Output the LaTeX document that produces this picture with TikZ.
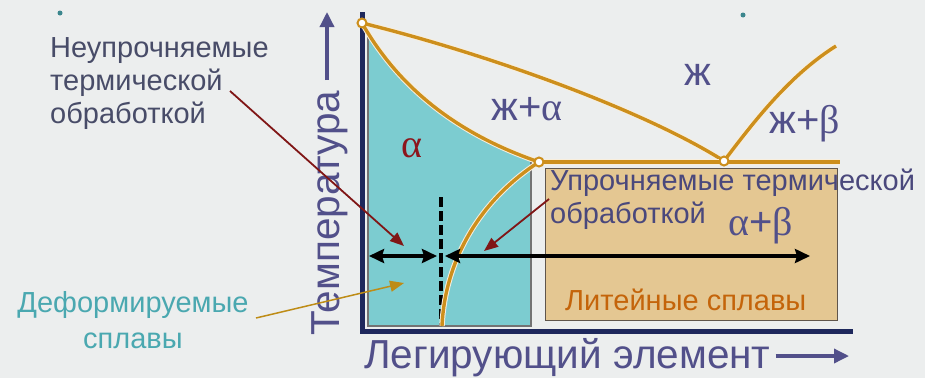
\documentclass[tikz,border=0pt]{standalone}
\usepackage{fontspec}
\setmainfont{Liberation Sans}
\newfontfamily\grk{Liberation Serif}
\usetikzlibrary{arrows.meta}
\definecolor{bgc}{RGB}{236,238,238}
\definecolor{tealc}{RGB}{124,204,208}
\definecolor{tanc}{RGB}{228,199,146}
\definecolor{orc}{RGB}{205,143,28}
\definecolor{navyc}{RGB}{30,40,92}
\definecolor{violc}{RGB}{82,80,138}
\definecolor{greyt}{RGB}{72,76,104}
\definecolor{redc}{RGB}{128,22,22}
\definecolor{alphac}{RGB}{140,22,28}
\definecolor{olivec}{RGB}{190,140,22}
\definecolor{tealt}{RGB}{74,168,176}
\definecolor{brownt}{RGB}{196,100,10}
\begin{document}
\begin{tikzpicture}[x=1pt,y=-1pt,
  phase/.style={draw=orc,line width=3.4pt},
  halo/.style={draw=white!85!orc,line width=5.4pt},
  junction/.style={circle,draw=orc,fill=white,line width=2pt,minimum size=9pt,inner sep=0pt},
  blackarr/.style={draw=black,line width=3.2pt,{Stealth[length=15pt,width=14pt,inset=2pt]}-{Stealth[length=15pt,width=14pt,inset=2pt]}},
  pointer/.style={line width=1.8pt,-{Triangle[length=14pt,width=11pt]}},
  lblarrow/.style={draw=violc,line width=3.4pt,-{Triangle[length=15pt,width=14pt]}},
  small/.style={font=\fontsize{29}{33}\selectfont,inner sep=0pt},
  axlabel/.style={font=\fontsize{40.5}{41}\selectfont,text=violc,inner sep=0pt},
  region/.style={font=\fontsize{40}{40}\selectfont,text=violc,inner sep=0pt,anchor=base}]
\fill[bgc] (0,0) rectangle (925,378);
\useasboundingbox (0,0) rectangle (925,378);

% points of the diagram
\coordinate (A) at (362,23);
\coordinate (E1) at (539,162);
\coordinate (E2) at (724,161);
\coordinate (L) at (836,46);
\coordinate (Eend) at (840,162);
\coordinate (S) at (442,326);

% tan box
\node[draw={rgb,255:red,95;green,85;blue,75},line width=1.2pt,fill=tanc,minimum width=292pt,minimum height=152pt,inner sep=0pt,anchor=north west] (castbox) at (545,168) {};

% teal region
\begin{scope}
\clip (368,0) rectangle (531,326);
\fill[tealc] (A) .. controls (400,90) and (460,135) .. (E1) -- (539,330) -- (362,330) -- cycle;
\draw[black!70,line width=1.2pt] (A) .. controls (400,90) and (460,135) .. (E1);
\end{scope}
\draw[black!55,line width=1.1pt] (368,34) -- (368,326) -- (531,326) -- (531,157);

% dashed line
\coordinate (D1) at (441,197);
\coordinate (D2) at (441,326);
\draw[black,line width=3.4pt,dash pattern=on 10pt off 4pt] (D1) -- (D2);

% axes
\coordinate (axT) at (362,12);
\coordinate (axO) at (362,331);
\coordinate (axR) at (853,331);
\draw[navyc,line width=5pt] (axT) -- (axO) -- (axR);

% phase lines
\draw[halo] (E1) .. controls (480,200) and (445,260) .. (S);
\draw[phase] (E1) .. controls (480,200) and (445,260) .. (S);
\draw[halo] (A) .. controls (400,90) and (460,135) .. (E1);
\draw[phase] (A) .. controls (400,90) and (460,135) .. (E1);
\draw[halo] (A) .. controls (480,52) and (640,108) .. (E2);
\draw[phase] (A) .. controls (480,52) and (640,108) .. (E2);
\draw[halo] (E2) .. controls (755,120) and (790,75) .. (L);
\draw[phase] (E2) .. controls (755,120) and (790,75) .. (L);
\draw[halo] (E1) -- (Eend);
\draw[phase] (E1) -- (Eend);
\node[junction] (jA) at (A) {};
\node[junction] (jE1) at (E1) {};
\node[junction] (jE2) at (E2) {};

% black arrows
\coordinate (a1) at (369,256);
\coordinate (a2) at (437,256);
\coordinate (a3) at (445,256);
\coordinate (a4) at (810,256);
\draw[blackarr] (a1) -- (a2);
\draw[blackarr] (a3) -- (a4);

% region labels
\node[region,text=alphac,font=\grk\fontsize{40}{40}\selectfont] (lalpha) at (412,157) {α};
\node[region] (lla) at (527,120) {ж+{\grk α}};
\node[region] (ll) at (698,85) {ж};
\node[region] (llb) at (805,133) {ж+{\grk β}};
\node[region] (lab) at (761,235) {{\grk α}+{\grk β}};

% texts
\node[small,text=greyt,align=left,anchor=north west] (nonhard) at (50,37) {Неупрочняемые\\термической\\обработкой};
\node[small,text=violc!90!black,align=left,anchor=north west] (hard) at (550,169) {Упрочняемые термической\\обработкой};
\node[small,text=tealt,align=center,anchor=north] (deform) at (133,291) {Деформируемые\\[3pt]сплавы};
\node[small,text=brownt,anchor=base west] (cast) at (565,310) {Литейные сплавы};

% axis labels
\node[axlabel,rotate=90,anchor=base west] (tlabel) at (339,336) {Температура};
\coordinate (tarr) at (327,12);
\coordinate (tstart) at (327,80);
\draw[lblarrow] (tstart) -- (tarr);
\node[axlabel,anchor=base west] (blabel) at (364,368.5) {Легирующий элемент};
\coordinate (barr) at (849,356);
\coordinate (bstart) at ([xshift=5pt]blabel.east);
\draw[lblarrow] (bstart |- barr) -- (barr);

% pointers
\coordinate (p1s) at (230,91);
\coordinate (p1e) at (404,246);
\draw[pointer,redc] (p1s) -- (p1e);
\coordinate (p2s) at (549,199);
\coordinate (p2e) at (484,251);
\draw[pointer,redc] (p2s) -- (p2e);
\coordinate (p3s) at (256,318);
\coordinate (p3e) at (404,283);
\draw[pointer,olivec,line width=1.5pt] (p3s) -- (p3e);

% dots
\fill[tealt!80!black] (60,13) circle (2.5pt);
\fill[tealt!80!black] (743,15) circle (2.5pt);
\end{tikzpicture}
\end{document}
